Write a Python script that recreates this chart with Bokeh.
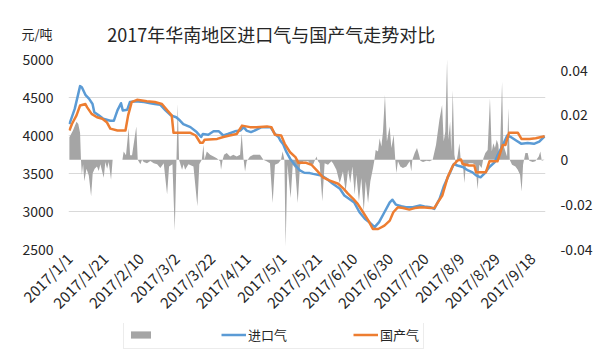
import math
from datetime import date
from bokeh.plotting import figure
from bokeh.layouts import column
from bokeh.models import Range1d, LinearAxis, FixedTicker, Legend, LegendItem
from bokeh.core.properties import value
from bokeh.embed import file_html
from bokeh.resources import INLINE

FONT = "Noto Sans CJK SC"
TEXT = "#262626"
BLUE = "#5B9BD5"
ORANGE = "#ED7D31"
GRAY = "#A5A5A5"

title_text = "2017年华南地区进口气与国产气走势对比"
unit_text = "元/吨"
import_name = "进口气"
domestic_name = "国产气"

tick_labels = ["2017/1/1", "2017/1/21", "2017/2/10", "2017/3/2", "2017/3/22",
               "2017/4/11", "2017/5/1", "2017/5/21", "2017/6/10", "2017/6/30",
               "2017/7/20", "2017/8/9", "2017/8/29", "2017/9/18"]
left_ticks = [2500, 3000, 3500, 4000, 4500, 5000]
right_ticks = [-0.04, -0.02, 0, 0.02, 0.04]
right_tick_labels = ["-0.04", "-0.02", "0", "0.02", "0.04"]

# days since 2017/1/1
import_days = [0, 3, 6, 7, 9, 11, 13, 14, 16.5, 19,
               23, 25, 27, 29, 30, 32.5, 34, 37, 42, 45.5,
               48, 51, 54, 57, 60, 62, 64, 68, 71.5, 74,
               75, 78, 81, 84, 86.5, 89, 93, 96, 98, 99.5,
               102, 104, 108, 113, 115.5, 117.5, 118.5, 120, 122, 124,
               127, 129.5, 132, 135, 137, 141.5, 144.5, 148, 152, 154.5,
               157.5, 160, 163, 166, 168.5, 171.5, 174, 177, 180, 181.5,
               183.5, 186.5, 189, 193, 197, 199.5, 203, 205, 208, 210.5,
               213.5, 216, 218, 221, 224, 226.5, 228.5, 231, 233, 236,
               239, 240.5, 243.5, 246, 248, 251, 254, 257.5, 261, 264,
               267]
import_price = [4150, 4350, 4650, 4635, 4535, 4485, 4415, 4305, 4265, 4220,
                4195, 4195, 4330, 4425, 4330, 4340, 4440, 4450, 4440, 4425,
                4415, 4405, 4330, 4265, 4240, 4200, 4150, 4110, 4045, 3980,
                4020, 4010, 4055, 4055, 4000, 4020, 4055, 4065, 4110, 4065,
                4045, 4065, 4110, 4110, 4020, 3980, 3935, 3890, 3780, 3695,
                3605, 3540, 3510, 3505, 3495, 3475, 3430, 3365, 3300, 3210,
                3160, 3120, 2990, 2905, 2860, 2795, 2860, 2990, 3120, 3155,
                3090, 3070, 3055, 3055, 3080, 3065, 3055, 3035, 3165, 3340,
                3495, 3625, 3605, 3585, 3540, 3515, 3475, 3450, 3495, 3585,
                3650, 3735, 3870, 4000, 3980, 3935, 3890, 3900, 3890, 3920,
                3990]

domestic_days = [0, 1.5, 4, 6, 9, 10, 12.5, 15.5, 18.5, 21,
                 23, 27, 31.5, 33, 35, 38, 43.5, 48, 52, 55,
                 57.5, 58.5, 64, 68, 71, 73.5, 75, 76, 83, 86.5,
                 90, 94, 97, 101.5, 105, 111, 113.5, 115.5, 119, 121,
                 124, 127, 128.7, 133, 136, 139, 142.5, 146, 151, 154,
                 156.5, 159.5, 162, 165, 168, 170.5, 173.5, 177, 180, 182,
                 184.5, 187.5, 191, 194, 198, 203, 205, 207, 209.5, 212.5,
                 215.5, 218, 220, 221, 224.5, 227.5, 228.5, 234, 236, 240.5,
                 243.5, 245, 247, 252, 254, 258.5, 262, 267]
domestic_price = [4065, 4155, 4265, 4395, 4415, 4370, 4285, 4240, 4220, 4175,
                  4090, 4065, 4065, 4265, 4440, 4470, 4450, 4440, 4415, 4330,
                  4265, 4035, 4035, 4035, 4000, 3905, 3905, 3945, 3955, 3980,
                  4000, 4020, 4130, 4110, 4110, 4120, 4110, 4010, 4000, 3890,
                  3780, 3715, 3640, 3640, 3615, 3540, 3450, 3410, 3365, 3300,
                  3235, 3165, 3100, 2990, 2880, 2770, 2770, 2815, 2880, 2990,
                  3055, 3045, 3025, 3045, 3055, 3045, 3045, 3120, 3210, 3450,
                  3605, 3670, 3685, 3625, 3605, 3605, 3515, 3515, 3660, 3660,
                  3875, 3875, 4035, 4035, 3955, 3955, 3965, 3990]

change_days = [0, 2, 4, 5, 6, 6.5, 7, 7.7, 8.4, 9.6,
               10.9, 12.2, 13.1, 14.2, 15.5, 16.5, 17.4, 19.3, 20.2, 21.2,
               22.1, 23.4, 24.3, 29.8, 30.5, 31.8, 33.3, 34.1, 35.2, 37.6,
               38.4, 39.9, 40.8, 41.8, 43.6, 45.5, 47.4, 49.3, 51.1, 53,
               54.9, 56, 57.9, 59.2, 60.1, 60.9, 61.6, 63.3, 64.2, 65,
               66.9, 69.7, 71.9, 73, 74.4, 75.3, 75.9, 77.2, 79.1, 81,
               82.8, 84.7, 85.2, 86.1, 86.9, 88.4, 90.3, 92.1, 94, 95.9,
               96.8, 97.8, 98.7, 99.6, 101.5, 103.4, 105.2, 107.1, 109, 110.8,
               112.7, 114.2, 115.5, 117.4, 118.9, 119.8, 120.8, 121.5, 122.5, 124.3,
               125.5, 126.8, 128.3, 129.6, 131.5, 134.3, 135, 136.9, 138.8, 139.7,
               140.6, 142.1, 143.4, 145.3, 147.2, 148.1, 150, 151.9, 153.7, 155.2,
               156.6, 157.8, 159, 160.3, 161.2, 162.7, 164, 165.4, 166.5, 167.8,
               169.1, 170.6, 171.4, 172.1, 173.4, 174.3, 175.3, 176.2, 177.3, 178.4,
               179.9, 180.9, 182.2, 183.1, 183.7, 184.6, 185.9, 187.4, 189.3, 191.2,
               192.1, 192.7, 194, 195.3, 196.4, 197.2, 198.7, 200.6, 202.4, 204.1,
               206, 207.9, 209.4, 210.3, 211.2, 212.2, 212.9, 213.9, 214.6, 215.4,
               216.3, 217.2, 218.2, 219.1, 220.1, 221, 221.9, 222.8, 224.7, 226.6,
               228.1, 229.4, 230.3, 231.6, 232.6, 233.7, 235, 236.3, 237.3, 238.2,
               239.1, 240.1, 241, 241.6, 242.1, 243.1, 243.8, 245, 245.9, 246.6,
               247.4, 248.7, 250.6, 251.9, 253.2, 254.1, 254.9, 256.2, 257.5, 258.4,
               260.3, 261.8, 263.7, 264.6, 265.4, 267]
change_value = [0.010, 0.013, 0.017, 0.016, 0.012, 0, -0.0067, -0.002, -0.0096, -0.004,
                -0.007, -0.0163, -0.006, -0.004, -0.003, -0.005, -0.002, -0.008, -0.001, -0.004,
                -0.001, -0.0089, 0, 0, 0.0037, 0.002, 0.014, 0.002, 0.002, 0.0148,
                0, -0.002, 0, -0.001, -0.0015, -0.0005, -0.0015, -0.002, -0.0037, -0.0015,
                -0.0155, -0.003, -0.002, -0.0318, -0.002, 0.025, 0, -0.0044, -0.002, -0.0044,
                -0.002, -0.003, -0.0207, -0.002, 0, 0.0067, 0, 0.0037, 0.0022, 0.0015,
                0.0007, -0.0007, -0.0044, 0, 0.0022, 0.003, 0.0015, 0.0022, 0.0015, 0.0022,
                0.0118, 0.0007, -0.0052, -0.0007, 0.0015, 0.0022, 0.0022, 0.0022, 0, -0.0007,
                -0.0015, -0.0193, -0.0022, -0.0015, 0, 0.0037, 0, -0.0385, -0.0022, -0.017,
                -0.0022, -0.0037, -0.0193, -0.0022, -0.0007, -0.0007, -0.0015, -0.0022, 0.0015, -0.0007,
                -0.0015, -0.0185, -0.0015, -0.0022, -0.0007, -0.0015, -0.0044, -0.0104, -0.0052, -0.0141,
                -0.0044, -0.0104, -0.003, -0.0155, -0.0067, -0.0185, -0.0081, -0.023, -0.0096, -0.0193,
                -0.0096, -0.0037, 0, 0.0044, 0.0037, 0.0096, 0.0059, 0.0126, 0.0289, 0.0081,
                0.0148, 0.0052, 0.0111, 0, -0.0059, -0.0007, -0.003, -0.0037, -0.003, -0.0007,
                -0.0052, 0, 0.003, 0.0052, 0.0022, -0.0004, -0.001, -0.0004, -0.0007, 0,
                0.0067, 0.0178, 0.0244, 0.0081, 0.0126, 0.0448, 0.0089, 0.017, 0.0037, 0.031,
                0.0022, -0.0022, 0.0022, 0.0074, -0.0022, -0.0007, -0.0104, -0.0022, -0.0015, -0.0015,
                -0.0022, -0.0133, -0.0022, -0.0037, 0.0007, 0.003, 0.0044, 0.0274, 0.0037, 0.0074,
                0.0052, 0.0089, 0.0067, 0.0007, 0.0081, 0.0348, 0.0067, 0.0037, 0.0015, 0.023,
                0, -0.0022, -0.003, -0.0044, -0.0067, -0.0141, -0.0022, 0.003, 0.003, -0.0004,
                -0.001, -0.0007, 0.0015, 0.0037, -0.0004, 0]

assert len(import_days) == len(import_price)
assert len(domestic_days) == len(domestic_price)
assert len(change_days) == len(change_value)

start = date(2017, 1, 1)
tick_pos = []
for lab in tick_labels:
    y, m, d = (int(s) for s in lab.split("/"))
    tick_pos.append((date(y, m, d) - start).days)

W = 596
BL, BR = 68, 51


def bare(fig):
    fig.outline_line_color = None
    fig.grid.visible = False
    fig.background_fill_color = "white"
    fig.border_fill_color = "white"


def style_axis(ax, size, standoff):
    ax.axis_line_color = None
    ax.major_tick_line_color = None
    ax.minor_tick_line_color = None
    ax.major_tick_out = 0
    ax.major_tick_in = 0
    ax.minor_tick_out = 0
    ax.major_label_standoff = standoff
    ax.major_label_text_font = FONT
    ax.major_label_text_font_size = size
    ax.major_label_text_color = TEXT


# ---- header: unit (as a left-axis label) and title ----
HEAD_H = 49
head = figure(width=W, height=HEAD_H, output_backend="svg", toolbar_location=None,
              x_range=Range1d(0, 1), y_range=Range1d(0, HEAD_H),
              min_border_left=BL, min_border_right=BR, min_border_top=0, min_border_bottom=0,
              x_axis_location=None)
bare(head)
hy = head.yaxis[0]
hy.ticker = FixedTicker(ticks=[HEAD_H - 33])
hy.major_label_overrides = {HEAD_H - 33: unit_text}
style_axis(hy, "13px", 16)
head.text(x=[0.425], y=[HEAD_H - 33], text=[title_text], text_font=value(FONT),
          text_font_size=value("18px"), text_color=TEXT, text_align="center",
          text_baseline="middle")

# ---- main chart ----
MAIN_H = 274
p = figure(width=W, height=MAIN_H, output_backend="svg", toolbar_location=None,
           x_range=Range1d(-0.5, 267.5), y_range=Range1d(2500, 5000),
           min_border_left=BL, min_border_right=BR, min_border_top=10, min_border_bottom=74)
bare(p)
p.extra_y_ranges = {"chg": Range1d(-0.04, 0.0447)}

p.varea(x=change_days, y1=0, y2=change_value, y_range_name="chg", fill_color=GRAY)
p.line(import_days, import_price, line_color=BLUE, line_width=2.5, line_join="round")
p.line(domestic_days, domestic_price, line_color=ORANGE, line_width=2.5, line_join="round")

xa = p.xaxis[0]
xa.ticker = FixedTicker(ticks=tick_pos)
xa.major_label_overrides = dict(zip(tick_pos, tick_labels))
xa.major_label_orientation = math.pi / 4
style_axis(xa, "15px", 6)

ya = p.yaxis[0]
ya.ticker = FixedTicker(ticks=left_ticks)
style_axis(ya, "14px", 15)

ra = LinearAxis(y_range_name="chg", ticker=FixedTicker(ticks=right_ticks),
                major_label_overrides=dict(zip(right_ticks, right_tick_labels)))
style_axis(ra, "14px", 15)
p.add_layout(ra, "right")

p.ygrid.visible = True
p.ygrid.ticker = FixedTicker(ticks=left_ticks)
p.ygrid.grid_line_color = "#D9D9D9"

# ---- footer: legend ----
FOOT_H = 33
foot = figure(width=W, height=FOOT_H, output_backend="svg", toolbar_location=None,
              x_range=Range1d(0, 1), y_range=Range1d(0, 1),
              min_border_left=BL, min_border_right=BR, min_border_top=0, min_border_bottom=0,
              x_axis_location=None, y_axis_location=None)
bare(foot)
# legend keys only (their points lie outside the footer's visible range)
g_area = foot.varea(x=[-3, -2], y1=[0, 0], y2=[1, 1], fill_color=GRAY)
g_imp = foot.line(x=[-3, -2], y=[0, 1], line_color=BLUE, line_width=2.5)
g_dom = foot.line(x=[-3, -2], y=[0, 1], line_color=ORANGE, line_width=2.5)
legend = Legend(items=[LegendItem(label=" ", renderers=[g_area]),
                       LegendItem(label=import_name, renderers=[g_imp]),
                       LegendItem(label=domestic_name, renderers=[g_dom])],
                orientation="horizontal", location=(55, 7), padding=4, spacing=66,
                margin=0, glyph_width=25, glyph_height=9, label_standoff=2,
                label_width=0, label_height=16, label_text_font=FONT,
                label_text_font_size="13px", label_text_color=TEXT,
                border_line_color="#D9D9D9", background_fill_alpha=0)
foot.add_layout(legend)

open("out.html", "w").write(file_html(column(head, p, foot, spacing=0), INLINE))
